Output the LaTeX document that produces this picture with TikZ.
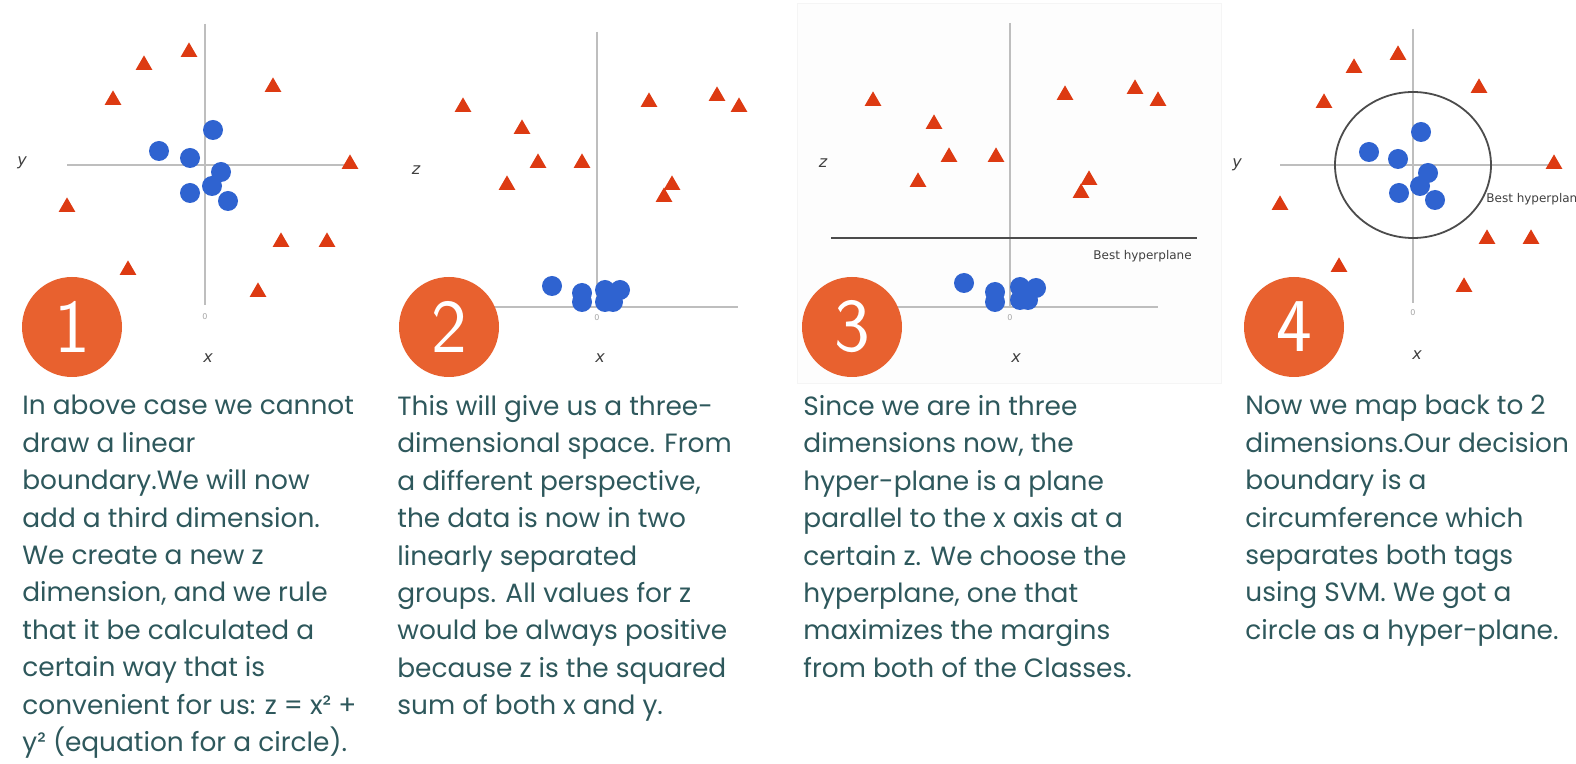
\documentclass[tikz,border=0pt]{standalone}
\usepackage{fontspec}
\setmainfont{Poppins}
\newfontfamily\labelfont{DejaVu Sans}
\usetikzlibrary{shapes.geometric}
\definecolor{txtteal}{RGB}{46,88,92}
\definecolor{trired}{RGB}{221,58,18}
\definecolor{dotblue}{RGB}{47,99,208}
\definecolor{discorange}{RGB}{232,97,47}
\definecolor{axisgray}{RGB}{190,190,190}
\begin{document}
\begin{tikzpicture}[x=0.5pt, y=-0.5pt,
    tri/.style={regular polygon, regular polygon sides=3, fill=trired, inner sep=0pt, minimum size=9.6pt},
    dot/.style={circle, fill=dotblue, inner sep=0pt, minimum size=10pt},
    numdisc/.style={circle, fill=discorange, text=white, inner sep=0pt, minimum size=50pt, font=\sffamily\fontsize{38}{38}\selectfont},
    axisline/.style={draw=axisgray, line width=0.6pt},
    hyper/.style={draw=black!70, line width=0.9pt},
    axlabel/.style={text=black!75, font=\labelfont\itshape\fontsize{8}{8}\selectfont, inner sep=0pt},
    zerolabel/.style={text=black!35, font=\labelfont\fontsize{4}{4}\selectfont, inner sep=0pt},
    planelabel/.style={text=black!75, font=\labelfont\fontsize{6}{6}\selectfont, inner sep=0pt},
    desc/.style={text=txtteal, align=left, anchor=north west, inner sep=0pt, font=\fontsize{13.2}{18.7}\selectfont}]
\useasboundingbox (0,0) rectangle (1576,764);
\fill[white] (0,0) rectangle (1576,764);
% panel 3 frame
\draw[draw=black!4, fill=black!0.8] (797,3) rectangle (1221,383);

% panel 1
\draw[axisline] (205,24) -- (205,305);
\draw[axisline] (67,165) -- (347,165);
\node[axlabel] (ylab1) at (22,163) {y};
\node[axlabel] (xlab1) at (208,358) {x};
\node[zerolabel] (zero1) at (205,317) {0};
\node[tri] (p1t1) at (189,52) {};
\node[tri] (p1t2) at (144,65) {};
\node[tri] (p1t3) at (113,100) {};
\node[tri] (p1t4) at (273,87) {};
\node[tri] (p1t5) at (350,164) {};
\node[tri] (p1t6) at (67,207) {};
\node[tri] (p1t7) at (128,270) {};
\node[tri] (p1t8) at (281,242) {};
\node[tri] (p1t9) at (327,242) {};
\node[tri] (p1t10) at (258,292) {};
\node[dot] (p1c1) at (213,130) {};
\node[dot] (p1c2) at (159,151) {};
\node[dot] (p1c3) at (190,158) {};
\node[dot] (p1c4) at (221,172) {};
\node[dot] (p1c5) at (212,186) {};
\node[dot] (p1c6) at (190,193) {};
\node[dot] (p1c7) at (228,201) {};
\node[numdisc] (num1) at (72,327) {1};

% panel 2
\draw[axisline] (597,32) -- (597,307);
\draw[axisline] (470,307) -- (738,307);
\node[axlabel] (zlab2) at (416,170) {z};
\node[axlabel] (xlab2) at (600,358) {x};
\node[zerolabel] (zero2) at (597,318) {0};
\node[tri] (p2t1) at (463,107) {};
\node[tri] (p2t2) at (522,129) {};
\node[tri] (p2t3) at (538,163) {};
\node[tri] (p2t4) at (582,163) {};
\node[tri] (p2t5) at (507,185) {};
\node[tri] (p2t6) at (649,102) {};
\node[tri] (p2t7) at (717,96) {};
\node[tri] (p2t8) at (739,107) {};
\node[tri] (p2t9) at (672,185) {};
\node[tri] (p2t10) at (664,197) {};
\node[dot] (p2c1) at (552,286) {};
\node[dot] (p2c2) at (582,293) {};
\node[dot] (p2c3) at (582,302) {};
\node[dot] (p2c4) at (605,290) {};
\node[dot] (p2c5) at (620,290) {};
\node[dot] (p2c6) at (605,302) {};
\node[dot] (p2c7) at (613,302) {};
\node[numdisc] (num2) at (449,327) {2};

% panel 3
\draw[axisline] (1010,23) -- (1010,307);
\draw[axisline] (870,307) -- (1158,307);
\draw[hyper] (831,238) -- (1197,238);
\node[planelabel, anchor=west] (best3) at (1093,256) {Best hyperplane};
\node[axlabel] (zlab3) at (823,163) {z};
\node[axlabel] (xlab3) at (1016,358) {x};
\node[zerolabel] (zero3) at (1010,318) {0};
\node[tri] (p3t1) at (873,101) {};
\node[tri] (p3t2) at (934,124) {};
\node[tri] (p3t3) at (949,157) {};
\node[tri] (p3t4) at (996,157) {};
\node[tri] (p3t5) at (918,182) {};
\node[tri] (p3t6) at (1065,95) {};
\node[tri] (p3t7) at (1135,89) {};
\node[tri] (p3t8) at (1158,101) {};
\node[tri] (p3t9) at (1089,180) {};
\node[tri] (p3t10) at (1081,193) {};
\node[dot] (p3c1) at (964,283) {};
\node[dot] (p3c2) at (995,292) {};
\node[dot] (p3c3) at (995,302) {};
\node[dot] (p3c4) at (1020,287) {};
\node[dot] (p3c5) at (1036,288) {};
\node[dot] (p3c6) at (1020,300) {};
\node[dot] (p3c7) at (1028,300) {};
\node[numdisc] (num3) at (852,327) {3};

% panel 4
\begin{scope}
\clip (1222,0) rectangle (1576,764);
\draw[axisline] (1413,29) -- (1413,303);
\draw[axisline] (1280,165) -- (1550,165);
\draw[hyper] (1413,165) ellipse [x radius=39pt, y radius=36.5pt];
\node[planelabel, anchor=west] (best4) at (1486,199) {Best hyperplane};
\end{scope}
\node[axlabel] (ylab4) at (1237,165) {y};
\node[axlabel] (xlab4) at (1417,355) {x};
\node[zerolabel] (zero4) at (1413,313) {0};
\node[tri] (p4t1) at (1398,55) {};
\node[tri] (p4t2) at (1354,68) {};
\node[tri] (p4t3) at (1324,103) {};
\node[tri] (p4t4) at (1479,88) {};
\node[tri] (p4t5) at (1554,164) {};
\node[tri] (p4t6) at (1280,205) {};
\node[tri] (p4t7) at (1339,267) {};
\node[tri] (p4t8) at (1487,239) {};
\node[tri] (p4t9) at (1531,239) {};
\node[tri] (p4t10) at (1464,287) {};
\node[dot] (p4c1) at (1421,132) {};
\node[dot] (p4c2) at (1369,152) {};
\node[dot] (p4c3) at (1398,159) {};
\node[dot] (p4c4) at (1428,173) {};
\node[dot] (p4c5) at (1420,186) {};
\node[dot] (p4c6) at (1399,193) {};
\node[dot] (p4c7) at (1435,200) {};
\node[numdisc] (num4) at (1294,327) {4};

% captions
\node[desc] (text1) at (22,395) {In above case we cannot\\draw a linear\\boundary.We will now\\add a third dimension.\\We create a new z\\dimension, and we rule\\that it be calculated a\\certain way that is\\convenient for us: z = x² +\\y² (equation for a circle).};
\node[desc] (text2) at (397,395) {This will give us a three-\\dimensional space. From\\a different perspective,\\the data is now in two\\linearly separated\\groups. All values for z\\would be always positive\\because z is the squared\\sum of both x and y.};
\node[desc] (text3) at (803,395) {Since we are in three\\dimensions now, the\\hyper-plane is a plane\\parallel to the x axis at a\\certain z. We choose the\\hyperplane, one that\\maximizes the margins\\from both of the Classes.};
\node[desc] (text4) at (1245,395) {Now we map back to 2\\dimensions.Our decision\\boundary is a\\circumference which\\separates both tags\\using SVM. We got a\\circle as a hyper-plane.};
\end{tikzpicture}
\end{document}
